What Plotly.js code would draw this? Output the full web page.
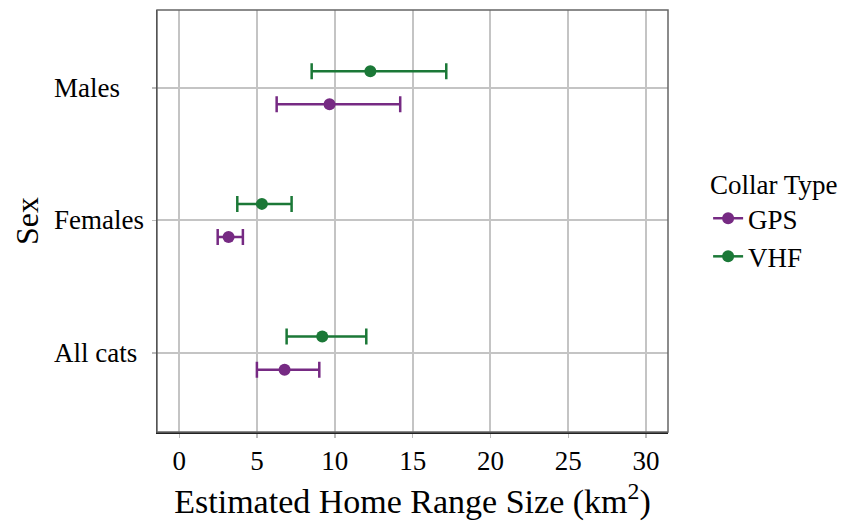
<!DOCTYPE html>
<html>
<head>
<meta charset="utf-8">
<script src="https://cdn.plot.ly/plotly-3.0.1.min.js"></script>
<style>html,body{margin:0;padding:0;background:#fff;}#chart{width:845px;height:524px;}</style>
</head>
<body>
<div id="chart"></div>
<script>
var sexes = ["All cats", "Females", "Males"];
var collarTypes = ["GPS", "VHF"];
var gpsMean  = [6.77, 3.17, 9.66];
var gpsLower = [4.99, 2.47, 6.26];
var gpsUpper = [9.00, 4.09, 14.20];
var vhfMean  = [9.19, 5.31, 12.28];
var vhfLower = [6.90, 3.73, 8.51];
var vhfUpper = [12.02, 7.22, 17.16];
var xTicks = [0, 5, 10, 15, 20, 25, 30];

var colors = {GPS: "#762A83", VHF: "#1B7837"};
var dodge = {GPS: -0.125, VHF: 0.125};
var FONT = "'Liberation Serif', 'Times New Roman', serif";

function mk(name, mean, lower, upper) {
  return {
    type: "scatter", mode: "markers", name: name, showlegend: false,
    x: mean,
    y: sexes.map(function (s, i) { return i + dodge[name]; }),
    marker: {color: colors[name], size: 12},
    error_x: {
      type: "data", symmetric: false,
      array: upper.map(function (u, i) { return u - mean[i]; }),
      arrayminus: lower.map(function (l, i) { return mean[i] - l; }),
      color: colors[name], thickness: 2.5, width: 8
    },
    hoverinfo: "x+y"
  };
}
function leg(name) {
  return {
    type: "scatter", mode: "lines+markers", name: name,
    x: [null], y: [null],
    line: {color: colors[name], width: 2.5},
    marker: {color: colors[name], size: 12}
  };
}

var data = [
  mk("GPS", gpsMean, gpsLower, gpsUpper),
  mk("VHF", vhfMean, vhfLower, vhfUpper),
  leg(collarTypes[0]), leg(collarTypes[1])
];

// left-aligned category labels (as in the reference)
var annotations = sexes.map(function (s, i) {
  return {
    text: s, xref: "paper", yref: "y", x: -0.206, y: i,
    xanchor: "left", yanchor: "middle", showarrow: false,
    font: {size: 27, family: FONT, color: "#000"}
  };
});

var layout = {
  width: 845, height: 524,
  margin: {l: 157, r: 177, t: 10, b: 92},
  paper_bgcolor: "#fff", plot_bgcolor: "#fff",
  font: {family: FONT, color: "#000", size: 26},
  showlegend: true,
  legend: {
    xref: "container", yref: "container",
    x: 0.838, xanchor: "left", y: 0.58, yanchor: "middle",
    title: {text: "Collar Type", font: {size: 27, family: FONT}},
    font: {size: 27, family: FONT},
    traceorder: "normal", itemwidth: 30, tracegroupgap: 0
  },
  xaxis: {
    range: [-1.43, 31.41], tickvals: xTicks, ticktext: xTicks.map(String),
    showgrid: true, gridcolor: "#c4c4c4", gridwidth: 2,
    zeroline: false, showline: true, linecolor: "#222", linewidth: 1.5,
    ticks: "outside", ticklen: 4, tickcolor: "#bbb", tickwidth: 1.5,
    tickfont: {size: 27, family: FONT}, ticklabelstandoff: 0,
    title: {text: "Estimated Home Range Size (km<sup>2</sup>)", font: {size: 34, family: FONT}, standoff: 14}
  },
  yaxis: {
    range: [-0.594, 2.586], tickvals: [0, 1, 2], ticktext: sexes,
    showticklabels: false,
    showgrid: true, gridcolor: "#c4c4c4", gridwidth: 2,
    zeroline: false, showline: true, linecolor: "#222", linewidth: 1.5,
    ticks: "outside", ticklen: 4, tickcolor: "#bbb", tickwidth: 1.5,
    title: {text: "Sex", font: {size: 32, family: FONT}, standoff: 103}
  },
  annotations: annotations,
  shapes: [{
    type: "rect", xref: "paper", yref: "paper", x0: 0, x1: 1, y0: 0, y1: 1,
    line: {color: "#666", width: 1.5}, fillcolor: "rgba(0,0,0,0)", layer: "above"
  }]
};

Plotly.newPlot("chart", data, layout, {staticPlot: true, displayModeBar: false});
</script>
</body>
</html>
